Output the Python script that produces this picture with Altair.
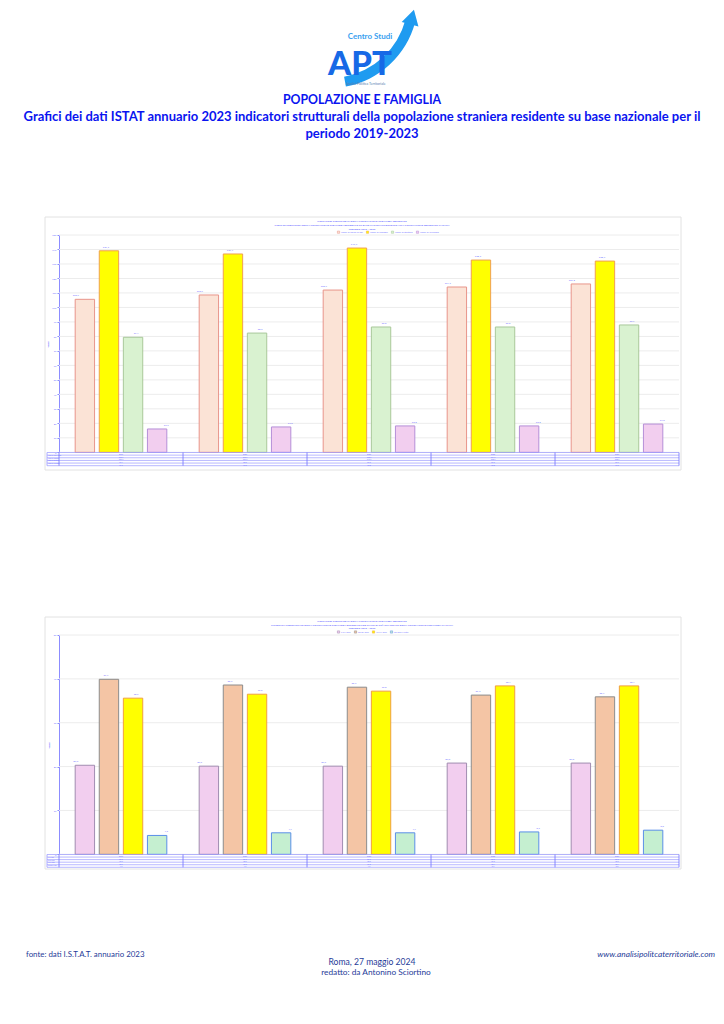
import altair as alt
import pandas as pd

# ---------------- data ----------------
anni = ["2019", "2020", "2021", "2022", "2023"]

serie1 = ["Indice di carico di figli", "Indice di ricambio", "Indice di struttura", "Indice di vecchiaia"]
g1_s1 = [105.6, 108.6, 112.0, 114.1, 116.2]
g1_s2 = [139.1, 136.9, 141.0, 132.7, 132.0]
g1_s3 = [79.4, 82.3, 86.5, 86.5, 87.9]
g1_s4 = [16.1, 17.5, 18.2, 18.2, 19.5]
fill1 = ["#FBE3D6", "#FFFF00", "#D9F2D0", "#F2CEEF"]
bordo1 = ["#E8958A", "#F0A050", "#A9C89A", "#B58FD8"]
tick1 = [0, 10, 20, 30, 40, 50, 60, 70, 80, 90, 100, 110, 120, 130, 140, 150]

serie2 = ["0-14 anni", "15-39 anni", "40-64 anni", "65 anni e oltre"]
g2_s1 = [20.3, 20.1, 20.1, 20.8, 20.8]
g2_s2 = [39.9, 38.6, 38.1, 36.3, 35.9]
g2_s3 = [35.6, 36.5, 37.2, 38.4, 38.4]
g2_s4 = [4.3, 4.9, 4.9, 5.1, 5.5]
fill2 = ["#F2CEEF", "#F4C5A5", "#FFFF00", "#C5EFD0"]
bordo2 = ["#A08CB0", "#8C8C8C", "#F0A040", "#5B8FE8"]
tick2 = [0, 10, 20, 30, 40, 50]

righe = [0, 1, 2, 3, 4, 5]

titolo1 = ["INDICATORI STRUTTURALI DELLA POPOLAZIONE STRANIERA RESIDENTE",
           "INDICI DI STRUTTURA DELLA POPOLAZIONE STRANIERA RESIDENTE SU BASE NAZIONALE RISPETTO ALLA POPOLAZIONE RESIDENTE IN ITALIA",
           "PERIODO 2019 - 2023"]
titolo2 = ["INDICATORI STRUTTURALI DELLA POPOLAZIONE STRANIERA RESIDENTE",
           "INCIDENZA PERCENTUALE DELLA POPOLAZIONE STRANIERA RESIDENTE PER CLASSI DI ETÀ SUL TOTALE DELLA POPOLAZIONE STRANIERA IN ITALIA",
           "PERIODO 2019 - 2023"]


def lungo(serie, valori):
    rows = []
    for s, vals in zip(serie, valori):
        for a, v in zip(anni, vals):
            rows.append({"anno": a, "serie": s, "valore": v, "label": f"{v:.1f}".replace(".", ",")})
    return pd.DataFrame(rows)


df1 = lungo(serie1, [g1_s1, g1_s2, g1_s3, g1_s4])
df2 = lungo(serie2, [g2_s1, g2_s2, g2_s3, g2_s4])

BLU = "#0a14f0"
TXT = "#6b6bff"
FOOT = "#1f3c99"


def testo(t, x, y, size, color, weight="normal", align="center", font="Lato", style="normal", angle=0):
    return alt.Chart(pd.DataFrame({"t": [t]})).mark_text(
        fontSize=size, color=color, fontWeight=weight, align=align, font=font,
        fontStyle=style, baseline="middle", angle=angle
    ).encode(text="t:N", x=alt.value(x), y=alt.value(y))


xscale = alt.Scale(domain=anni, range=[59, 679], paddingInner=0.223, paddingOuter=0.1115)
X = alt.X("anno:N", scale=xscale, axis=None)
X0 = alt.X("anno:N", scale=xscale, axis=None, bandPosition=0)


def pannello(df, serie, fill, bordo, ticks, dom, yr, box, titoli, ty, legy, tab):
    layers = []
    one = pd.DataFrame({"k": [0]})
    layers.append(alt.Chart(one).mark_rect(fillOpacity=0, stroke="#e2e2e2", strokeWidth=1).encode(
        x=alt.value(box[0]), x2=alt.value(box[1]), y=alt.value(box[2]), y2=alt.value(box[3])))
    ysc = alt.Scale(domain=dom, range=yr, nice=False, zero=True)
    layers.append(alt.Chart(pd.DataFrame({"t": ticks})).mark_rule(color="#ececec", strokeWidth=1).encode(
        y=alt.Y("t:Q", scale=ysc, axis=None), x=alt.value(59), x2=alt.value(679)))
    xo = alt.XOffset("serie:N", scale=alt.Scale(domain=serie, paddingInner=0.195, paddingOuter=0.0975))
    layers.append(alt.Chart(df).mark_bar(strokeWidth=1).encode(
        x=X, xOffset=xo,
        y=alt.Y("valore:Q", scale=ysc, axis=alt.Axis(
            orient="left", offset=-59, values=ticks, labelFontSize=2.5, labelColor=TXT,
            domainColor="#8c8cff", tickColor="#8c8cff", tickSize=2, labelPadding=1,
            title="Valori", titleFontSize=2.5, titleColor=TXT, titlePadding=2, grid=False)),
        color=alt.Color("serie:N", scale=alt.Scale(domain=serie, range=fill), legend=alt.Legend(
            orient="none", legendX=337, legendY=legy, direction="horizontal", title=None,
            symbolType="square", symbolSize=5, labelFontSize=2.3, labelColor=TXT,
            columnPadding=2, symbolStrokeWidth=0.5, labelOffset=1, padding=0, rowPadding=0)),
        stroke=alt.Stroke("serie:N", scale=alt.Scale(domain=serie, range=bordo), legend=None),
    ))
    layers.append(alt.Chart(df).mark_text(dy=-2, fontSize=2.5, color=TXT, baseline="bottom").encode(
        x=X, xOffset=xo, y=alt.Y("valore:Q", scale=ysc, axis=None), text="label:N"))
    for t, yy in zip(titoli, ty):
        layers.append(testo(t, 362, yy, 2.6, TXT, weight="bold"))
    # table under the plot
    tsc = alt.Scale(domain=[0, 5], range=tab, nice=False, zero=False)
    layers.append(alt.Chart(pd.DataFrame({"r": righe})).mark_rule(color="#9a9aff", strokeWidth=0.7).encode(
        y=alt.Y("r:Q", scale=tsc, axis=None), x=alt.value(47), x2=alt.value(679)))
    layers.append(alt.Chart(pd.DataFrame({"anno": anni})).mark_rule(color="#6f6fff", strokeWidth=0.8, xOffset=-13.8).encode(
        x=X0, y=alt.value(tab[0]), y2=alt.value(tab[1])))
    layers.append(alt.Chart(one).mark_rule(color="#6f6fff", strokeWidth=0.8).encode(
        x=alt.value(679), y=alt.value(tab[0]), y2=alt.value(tab[1])))
    layers.append(alt.Chart(one).mark_rule(color="#9a9aff", strokeWidth=0.8).encode(
        x=alt.value(47), y=alt.value(tab[0]), y2=alt.value(tab[1])))
    trows = [{"anno": a, "r": 0.5, "t": a} for a in anni]
    for i, s in enumerate(serie):
        sub = df[df.serie == s]
        for a, lab in zip(sub.anno, sub.label):
            trows.append({"anno": a, "r": i + 1.5, "t": lab})
    layers.append(alt.Chart(pd.DataFrame(trows)).mark_text(fontSize=1.8, color=TXT).encode(
        x=X, y=alt.Y("r:Q", scale=tsc, axis=None), text="t:N"))
    hrows = pd.DataFrame({"r": [i + 1.5 for i in range(len(serie))], "t": serie})
    layers.append(alt.Chart(hrows).mark_text(fontSize=1.4, color=TXT, align="left").encode(
        x=alt.value(48), y=alt.Y("r:Q", scale=tsc, axis=None), text="t:N"))
    return layers


layers = []
# ---- logo ----
one = pd.DataFrame({"k": [0]})
layers.append(alt.Chart(one).mark_arc(theta=1.83, theta2=2.96, innerRadius=78, outerRadius=88, color="#1F9BF0").encode(
    x=alt.value(330), y=alt.value(0)))
layers.append(alt.Chart(one).mark_point(shape="triangle-up", filled=True, size=300, angle=15, color="#1F9BF0", opacity=1).encode(
    x=alt.value(412), y=alt.value(17)))
layers.append(testo("Centro Studi", 370, 36.5, 8, "#3A9FF0", weight="bold"))
layers.append(testo("APT", 360, 65, 33, "#1769E6", weight=900))
layers.append(testo("Analisi Politica Territoriale", 346, 84, 3.5, "#5a7fb0", align="left"))

# ---- page titles ----
layers.append(testo("POPOLAZIONE E FAMIGLIA", 362, 100, 12.3, BLU, weight="bold"))
layers.append(testo("Grafici dei dati ISTAT annuario 2023 indicatori strutturali della popolazione straniera residente su base nazionale per il",
                    362, 117, 13, BLU, weight="bold"))
layers.append(testo("periodo 2019-2023", 362, 134, 13, BLU, weight="bold"))

# ---- charts ----
layers += pannello(df1, serie1, fill1, bordo1, tick1, [0, 150], [452.3, 235], (45, 681, 217, 470),
                   titolo1, [221, 224.8, 228.3], 230.5, [452.5, 465.7])
layers += pannello(df2, serie2, fill2, bordo2, tick2, [0, 50], [854.3, 635], (45, 681, 617, 869),
                   titolo2, [620.5, 624.3, 627.8], 630.3, [854.5, 867.3])

# ---- footer ----
layers.append(testo("fonte: dati I.S.T.A.T. annuario 2023", 26, 955, 7.9, FOOT, align="left"))
layers.append(testo("Roma, 27 maggio 2024", 372, 962, 8.6, FOOT))
layers.append(testo("redatto: da Antonino Sciortino", 376, 973, 8.3, FOOT))
layers.append(testo("www.analisipolitcaterritoriale.com", 715, 955, 8.3, FOOT, align="right", style="italic"))

chart = alt.layer(*layers).resolve_scale(
    y="independent", color="independent", stroke="independent", xOffset="independent"
).resolve_axis(y="independent").resolve_legend(color="independent").properties(
    width=724, height=1024, autosize=alt.AutoSizeParams(type="none"), padding=0,
    background="white"
).configure_view(stroke="transparent")

chart.save("out.html", embed_options={"renderer": "svg", "actions": False})
